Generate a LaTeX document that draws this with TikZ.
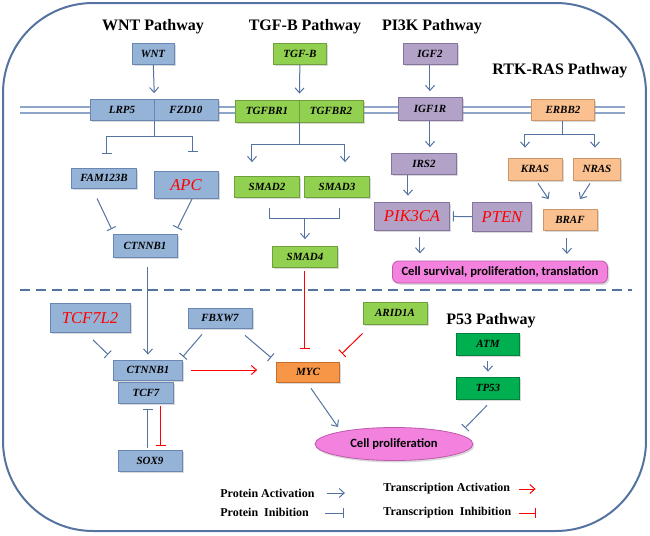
\documentclass[tikz,border=0pt]{standalone}
\usepackage{fontspec}
\setmainfont{Liberation Serif}
\newfontfamily\cellfont{Carlito}
\usetikzlibrary{arrows.meta,calc,shadows,shapes.geometric}

\definecolor{wntblue}{RGB}{149,179,215}
\definecolor{wntedge}{RGB}{105,135,178}
\definecolor{tgfgreen}{RGB}{146,208,80}
\definecolor{tgfedge}{RGB}{112,160,62}
\definecolor{pikpurple}{RGB}{179,162,199}
\definecolor{pikedge}{RGB}{132,116,158}
\definecolor{rasorange}{RGB}{250,192,144}
\definecolor{rasedge}{RGB}{205,150,105}
\definecolor{mycorange}{RGB}{247,150,70}
\definecolor{mycedge}{RGB}{200,110,45}
\definecolor{p53green}{RGB}{0,176,80}
\definecolor{p53edge}{RGB}{0,130,60}
\definecolor{cellpink}{RGB}{242,130,222}
\definecolor{celledge}{RGB}{190,90,170}
\definecolor{linkblue}{RGB}{84,115,160}
\definecolor{membrane}{RGB}{140,165,200}

\tikzset{
  box/.style={draw=#1, line width=0.4pt, inner sep=0pt, minimum width=32pt, minimum height=10.5pt,
    font=\fontsize{5.5}{6}\selectfont\bfseries\itshape,
    drop shadow={shadow xshift=0.9pt, shadow yshift=-0.9pt, opacity=0.3}},
  wntbox/.style={box=wntedge, fill=wntblue},
  tgfbox/.style={box=tgfedge, fill=tgfgreen},
  pikbox/.style={box=pikedge, fill=pikpurple},
  rasbox/.style={box=rasedge, fill=rasorange},
  mycbox/.style={box=mycedge, fill=mycorange},
  p53box/.style={box=p53edge, fill=p53green},
  redlabel/.style={font=\fontsize{8.3}{9}\selectfont\itshape, text=red},
  title/.style={font=\fontsize{8}{9}\selectfont\bfseries, inner sep=0pt},
  link/.style={draw=linkblue, line width=0.5pt},
  act/.style={link, -{Straight Barb[length=2.5pt,width=4.5pt]}},
  inh/.style={link, -{Bar[width=5pt]}},
  tact/.style={draw=red, line width=0.5pt, -{Straight Barb[length=2.5pt,width=4.5pt]}},
  tinh/.style={draw=red, line width=0.5pt, -{Bar[width=5pt]}},
  legend/.style={font=\fontsize{6}{7}\selectfont\bfseries, anchor=west, inner sep=0pt},
}

\begin{document}
\begin{tikzpicture}[x=0.5pt, y=-0.5pt]
\useasboundingbox (0,0) rectangle (650,536);

% cornice
\draw[draw=linkblue, line width=1pt, rounded corners=45pt] (3,3) rectangle (646,531);

% membrana
\draw[membrane, line width=0.7pt] (20,107) -- (625,107);
\draw[membrane, line width=0.7pt] (20,113) -- (625,113);

% separatore
\draw[linkblue, line width=0.9pt, dash pattern=on 5pt off 3pt] (20,290) -- (632,290);

% titoli
\node[title] (wnttitle) at (153,27) {WNT Pathway};
\node[title] (tgftitle) at (305,27) {TGF-B Pathway};
\node[title] (piktitle) at (432,27) {PI3K Pathway};
\node[title] (rastitle) at (560,71) {RTK-RAS Pathway};
\node[title] (p53title) at (491,321) {P53 Pathway};

% WNT
\node[wntbox, minimum width=21pt] (wnt) at (153,54) {WNT};
\node[wntbox] (lrp) at (122,110) {LRP5};
\node[wntbox] (fzd) at (186,110) {FZD10};
\node[wntbox, minimum width=32.5pt, minimum height=10pt] (fam) at (104,178) {FAM123B};
\node[wntbox, redlabel, minimum height=13.5pt] (apc) at (186,185) {APC};
\node[wntbox, minimum height=11.5pt] (ctna) at (145,246) {CTNNB1};

% TGF-B
\node[tgfbox, minimum width=26.5pt] (tgfb) at (300,54) {TGF-B};
\node[tgfbox, minimum height=11pt] (tgfr1) at (267,111) {TGFBR1};
\node[tgfbox, minimum height=11pt] (tgfr2) at (331,111) {TGFBR2};
\node[tgfbox, minimum width=32.5pt] (smad2) at (267,187) {SMAD2};
\node[tgfbox, minimum width=32.5pt] (smad3) at (337,187) {SMAD3};
\node[tgfbox, minimum width=32.5pt] (smad4) at (305,257) {SMAD4};

% PI3K
\node[pikbox, minimum width=27pt] (igf2) at (430,54) {IGF2};
\node[pikbox, minimum height=11.5pt] (igf1r) at (430,109) {IGF1R};
\node[pikbox, minimum width=32.5pt] (irs2) at (424,164) {IRS2};
\node[pikbox, redlabel, minimum width=37.5pt, minimum height=14pt] (pik3ca) at (412,216) {PIK3CA};
\node[pikbox, redlabel, minimum width=29.5pt, minimum height=14.5pt] (pten) at (502,217) {PTEN};

% RTK-RAS
\node[rasbox, minimum width=31.5pt] (erbb2) at (563,110) {ERBB2};
\node[rasbox, minimum width=27pt, minimum height=11pt] (kras) at (535,169) {KRAS};
\node[rasbox, minimum width=23.5pt, minimum height=11pt] (nras) at (597,169) {NRAS};
\node[rasbox, minimum width=27pt] (braf) at (570,220) {BRAF};
\node[draw=celledge, fill=cellpink, rounded corners=3pt, line width=0.4pt,
      minimum width=107.5pt, minimum height=11pt, inner sep=0pt,
      font=\cellfont\bfseries\fontsize{6.3}{7}\selectfont,
      drop shadow={shadow xshift=0.9pt, shadow yshift=-0.9pt, opacity=0.3}]
      (survival) at (500,272) {Cell survival, proliferation, translation};

% parte bassa
\node[wntbox, redlabel, minimum width=40pt, minimum height=14.5pt] (tcf7l2) at (90,318) {TCF7L2};
\node[wntbox, minimum height=10pt] (fbxw7) at (220,318) {FBXW7};
\node[wntbox, minimum width=34.5pt, minimum height=10pt] (ctnb) at (148,370) {CTNNB1};
\node[wntbox, minimum width=27.5pt] (tcf7) at (146,393) {TCF7};
\node[wntbox] (sox9) at (150,461) {SOX9};
\node[tgfbox, minimum height=11pt] (arid) at (395,313) {ARID1A};
\node[mycbox, minimum width=31.5pt, minimum height=10pt] (myc) at (308,372) {MYC};
\node[p53box, minimum width=31.5pt, minimum height=11pt] (atm) at (488,344) {ATM};
\node[p53box, minimum width=31.5pt, minimum height=11pt] (tp53) at (488,388) {TP53};
\node[ellipse, draw=celledge, fill=cellpink, line width=0.4pt, inner sep=0pt,
      minimum width=79pt, minimum height=16.5pt,
      font=\cellfont\bfseries\fontsize{6.3}{7}\selectfont,
      drop shadow={shadow xshift=0.6pt, shadow yshift=-1pt, opacity=0.3}]
      (prolif) at (394,444) {Cell proliferation};

% frecce WNT
\draw[act, shorten >=3pt] (wnt) -- (lrp.north east);
\draw[inh, shorten >=7pt] (lrp.south east) -- ++(0,16) -| ($(fam.north)+(3,0)$);
\draw[inh, shorten >=9.5pt] (lrp.south east) -- ++(0,16) -| ($(apc.north)+(7,0)$);
\draw[inh] ($(fam.south)+(-7,10)$) -- ($(ctna.north west)+(-1,-5)$);
\draw[inh] ($(apc.south)+(6,0)$) -- ($(ctna.north east)+(0,-6)$);
\draw[act] ($(ctna.south)+(3,9)$) -- ($(ctnb.north)+(0,-5)$);

% frecce TGF-B
\draw[act, shorten >=3pt] (tgfb) -- (tgfr1.north east);
\draw[act, shorten >=7pt] (tgfr1.south east) -- ++(0,22) -| ($(smad2.north)+(-15,0)$);
\draw[act, shorten >=7pt] (tgfr1.south east) -- ++(0,22) -| ($(smad3.north)+(8,0)$);
\draw[link] ($(smad2.south)+(3,10)$) -- ++(0,11) -| ($(smad3.south)+(3,10)$);
\draw[act] ($(smad2.south)!0.5!(smad3.south)+(3,21)$) -- ($(smad4.north)+(0,-7)$);
\draw[tinh, shorten <=1.5pt, shorten >=6.5pt] (smad4.south) -- (smad4.south |- myc.north);

% frecce PI3K
\draw[act, shorten >=3pt] (igf2) -- (igf1r);
\draw[act, shorten >=3pt] (igf1r) -- (igf1r |- irs2.north);
\draw[act] ($(irs2.south)+(-16,0)$) -- ($(pik3ca.north)+(-4,-6)$);
\draw[inh, shorten >=1.5pt] (pten) -- (pik3ca);
\draw[act] ($(pik3ca.south)+(8,7)$) -- ++(0,16);

% frecce RTK-RAS
\draw[act, shorten >=5pt] (erbb2) -- ++(0,24) -| ($(kras.north)+(-10,0)$);
\draw[act, shorten >=5pt] (erbb2) -- ++(0,24) -| ($(nras.north)+(-2,0)$);
\draw[act] ($(kras.south)+(3,3)$) -- ($(braf.north west)+(6,-10)$);
\draw[act] ($(nras.south)+(-7,3)$) -- ($(braf.north)+(10,-10)$);
\draw[act] ($(braf.south)+(-3,7)$) -- ++(0,16);

% frecce parte bassa
\draw[inh] ($(tcf7l2.south)+(3,7)$) -- ($(ctnb.north west)+(-5,-5)$);
\draw[inh] ($(fbxw7.south)+(-18,6)$) -- ($(ctnb.north east)+(0,-3)$);
\draw[inh] ($(fbxw7.south)+(25,7)$) -- ($(myc.north west)+(-5,-4)$);
\draw[tinh] ($(arid.south west)+(0,9)$) -- ($(myc.north east)+(2,-8)$);
\draw[tact, shorten <=4pt, shorten >=9.5pt] (ctnb.east) -- (ctnb.east -| myc.west);
\draw[tinh] ($(tcf7.south)+(15,2)$) -- ++(0,40);
\draw[inh] ($(sox9.north)+(-2,-2)$) -- ++(0,-39);
\draw[act] ($(myc.south)+(3,6)$) -- ($(prolif.center)+(-56,-17)$);
\draw[act, shorten >=2.5pt, shorten <=3pt] (atm) -- (tp53);
\draw[inh] ($(tp53.south)+(-1,6)$) -- ($(prolif.center)+(71,-16)$);

% legenda
\node[legend] (legpa) at (220,493) {Protein Activation};
\node[legend] (legpi) at (220,512) {Protein\ \ Inibition};
\node[legend] (legta) at (383,489) {Transcription Activation};
\node[legend] (legti) at (383,513) {Transcription\ \ Inhibition};
\draw[act] ($(legpa.east)+(12,0)$) -- ++(18,0);
\draw[inh] ($(legpi.east)+(16,1)$) -- ++(19,0);
\draw[tact] ($(legta.east)+(8,0)$) -- ++(17,0);
\draw[tinh] ($(legti.east)+(7,0)$) -- ++(17,0);
\end{tikzpicture}
\end{document}
